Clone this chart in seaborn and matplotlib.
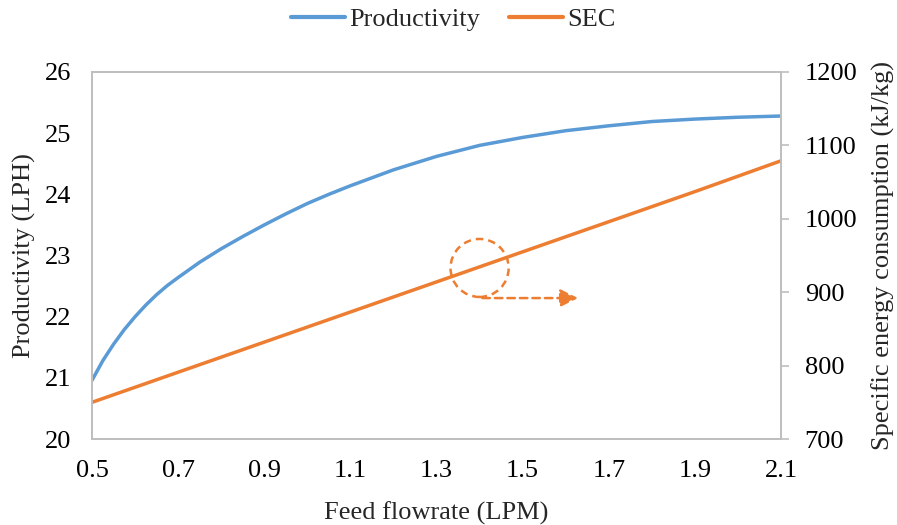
import matplotlib
matplotlib.use("Agg")
import matplotlib.pyplot as plt
from matplotlib.patches import Ellipse
from matplotlib.lines import Line2D
import seaborn as sns
import pandas as pd

flow_prod = [0.5, 0.525, 0.55, 0.575, 0.6, 0.625, 0.65, 0.675, 0.7, 0.75, 0.8, 0.85, 0.9, 0.95,
             1.0, 1.05, 1.1, 1.2, 1.3, 1.4, 1.5, 1.6, 1.7, 1.8, 1.9, 2.0, 2.1]
productivity = [20.96, 21.28, 21.55, 21.79, 22.00, 22.19, 22.36, 22.51, 22.64, 22.89, 23.11, 23.31, 23.50, 23.68,
                23.85, 24.00, 24.14, 24.40, 24.62, 24.80, 24.93, 25.04, 25.12, 25.19, 25.23, 25.26, 25.28]
flow_sec = [0.5, 0.7, 0.9, 1.1, 1.3, 1.5, 1.7, 1.9, 2.1]
sec = [750, 791, 832, 873, 914, 955, 996, 1037, 1079]
x_ticks = [0.5, 0.7, 0.9, 1.1, 1.3, 1.5, 1.7, 1.9, 2.1]

sns.set_theme(style="white")
plt.rcParams['font.family'] = ['Liberation Serif', 'DejaVu Serif']

blue = "#5B9BD5"
orange = "#ED7D31"
grey = "#BFBFBF"

fig = plt.figure(figsize=(8.97, 5.25), dpi=100)
ax = fig.add_axes([0.1026, 0.1638, 0.7681, 0.6991])
ax2 = ax.twinx()

df1 = pd.DataFrame({"x": flow_prod, "y": productivity})
df2 = pd.DataFrame({"x": flow_sec, "y": sec})
sns.lineplot(data=df1, x="x", y="y", ax=ax, color=blue, linewidth=2.5)
sns.lineplot(data=df2, x="x", y="y", ax=ax2, color=orange, linewidth=2.5)

ax.set_xlim(0.5, 2.1)
ax.set_ylim(20, 26)
ax2.set_ylim(700, 1200)
ax.set_xticks(x_ticks)
ax.set_xticklabels([f"{v:.1f}" for v in x_ticks])
ax.set_yticks(range(20, 27))
ax2.set_yticks(range(700, 1201, 100))

fs = 19
ax.tick_params(axis='both', labelsize=fs, length=0, colors='black', pad=15)
ax2.tick_params(axis='y', labelsize=fs, length=6, width=1.2, color=grey, direction='out', pad=11, labelcolor='black')

for a in (ax, ax2):
    for s in a.spines.values():
        s.set_color(grey)
        s.set_linewidth(1.3)
        s.set_visible(True)

ax.set_xlabel("Feed flowrate (LPM)", fontsize=fs, labelpad=14)
ax.set_ylabel("Productivity (LPH)", fontsize=fs, labelpad=6)
ax2.set_ylabel("Specific energy consumption (kJ/kg)", fontsize=fs, labelpad=10)

# dashed circle and arrow annotation
circ = Ellipse((1.40, 933), width=0.135, height=79, fill=False,
               edgecolor=orange, linestyle=(0, (3, 2)), linewidth=1.8)
ax2.add_patch(circ)
ax2.annotate("", xy=(1.635, 892), xytext=(1.40, 892),
             arrowprops=dict(arrowstyle="-|>,head_length=0.9,head_width=0.45",
                             color=orange, linestyle=(0, (3, 2)), linewidth=1.8))

handles = [Line2D([0], [0], color=blue, linewidth=3),
           Line2D([0], [0], color=orange, linewidth=3)]
fig.legend(handles, ["Productivity", "SEC"], loc="upper center",
           bbox_to_anchor=(0.505, 1.03), ncol=2, frameon=False, fontsize=fs,
           handlelength=2.05, handletextpad=0.15, columnspacing=1.1)

fig.savefig("out.png", dpi=100)
